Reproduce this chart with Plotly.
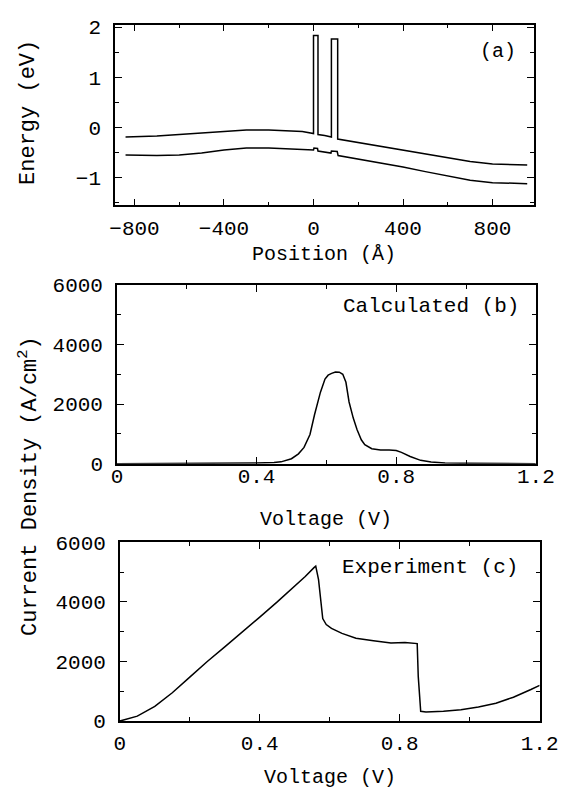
import plotly.graph_objects as go

W, H = 573, 804

# ---------------- data ----------------
# (a) band profile
pos_cb = [-840, -700, -600, -500, -400, -300, -200, -100, -50, 0, 0, 20, 20, 50, 80, 80, 108, 108,
          200, 300, 400, 500, 600, 700, 800, 900, 955]
e_cb = [-0.19, -0.17, -0.14, -0.11, -0.08, -0.05, -0.05, -0.06, -0.08, -0.12, 1.83, 1.83, -0.14, -0.16,
        -0.19, 1.76, 1.76, -0.23, -0.30, -0.37, -0.44, -0.52, -0.60, -0.68, -0.73, -0.75, -0.75]
pos_lb = [-840, -700, -600, -500, -400, -300, -200, -100, -20, 0, 2, 18, 20, 50, 78, 80, 106, 110,
          200, 300, 400, 500, 600, 700, 800, 900, 955]
e_lb = [-0.55, -0.56, -0.55, -0.51, -0.45, -0.41, -0.41, -0.43, -0.46, -0.45, -0.41, -0.42, -0.47, -0.49,
        -0.51, -0.47, -0.48, -0.56, -0.63, -0.71, -0.79, -0.88, -0.97, -1.05, -1.10, -1.12, -1.12]

# (b) calculated current density
v_calc = [0, 0.3, 0.40, 0.45, 0.47, 0.50, 0.52, 0.536, 0.553, 0.566, 0.583, 0.596, 0.605, 0.615, 0.626,
          0.637, 0.647, 0.656, 0.665, 0.677, 0.688, 0.70, 0.71, 0.73, 0.755, 0.78, 0.80, 0.815, 0.84,
          0.87, 0.90, 0.94, 1.0, 1.2]
j_calc = [0, 0, 20, 40, 60, 165, 330, 545, 980, 1640, 2400, 2840, 2970, 3030, 3075, 3070, 3000, 2730,
          2070, 1530, 1140, 800, 640, 500, 460, 455, 440, 380, 240, 110, 55, 25, 10, 0]

# (c) experimental current density
v_exp = [0, 0.05, 0.1, 0.15, 0.2, 0.25, 0.3, 0.35, 0.4, 0.45, 0.5, 0.53, 0.555, 0.56, 0.568, 0.575,
         0.58, 0.59, 0.605, 0.635, 0.675, 0.725, 0.775, 0.815, 0.85, 0.853, 0.86, 0.875, 0.925, 0.975,
         1.025, 1.075, 1.125, 1.175, 1.2]
j_exp = [0, 164, 490, 950, 1473, 2000, 2490, 2980, 3490, 4000, 4530, 4855, 5150, 5200, 4745, 3980,
         3440, 3240, 3110, 2945, 2780, 2695, 2620, 2640, 2600, 1500, 327, 305, 327, 380, 470, 600, 800,
         1060, 1200]

# ticks
pos_ticks = [-800, -400, 0, 400, 800]
e_ticks = [-1, 0, 1, 2]
v_ticks = [0, 0.4, 0.8, 1.2]
v_labels = ["0", "0.4", "0.8", "1.2"]
j_ticks = [0, 2000, 4000, 6000]

FONT = "Liberation Mono, Courier New, monospace"
line = dict(color="black", width=1.5)

fig = go.Figure()
fig.add_trace(go.Scatter(x=pos_cb, y=e_cb, mode="lines", line=line, xaxis="x", yaxis="y"))
fig.add_trace(go.Scatter(x=pos_lb, y=e_lb, mode="lines", line=line, xaxis="x", yaxis="y"))
fig.add_trace(go.Scatter(x=v_calc, y=j_calc, mode="lines", line=line, xaxis="x2", yaxis="y2"))
fig.add_trace(go.Scatter(x=v_exp, y=j_exp, mode="lines", line=line, xaxis="x3", yaxis="y3"))


def xd(a, b):
    return [a / W, b / W]


def yd(top, bot):
    return [1 - bot / H, 1 - top / H]


def ax(domain, rng, tickvals, minor_dtick, anchor, standoff, ticktext=None):
    d = dict(domain=domain, range=rng, tickvals=tickvals, showline=True, linecolor="black",
             linewidth=1.5, mirror="ticks", ticks="inside", ticklen=7, tickwidth=1.2,
             tickcolor="black", showgrid=False, zeroline=False, anchor=anchor,
             tickfont=dict(family=FONT, size=21, color="black"),
             ticklabelstandoff=standoff,
             minor=dict(ticks="inside", dtick=minor_dtick, ticklen=4, tickwidth=1,
                        tickcolor="black", showgrid=False))
    if ticktext is not None:
        d["ticktext"] = ticktext
    return d


fig.update_layout(
    width=W, height=H, margin=dict(l=0, r=0, t=0, b=0),
    paper_bgcolor="white", plot_bgcolor="white", showlegend=False,
    font=dict(family=FONT, color="black"),
    xaxis=ax(xd(114, 552), [-887, 985], pos_ticks, 200, "y", 3),
    yaxis=ax(yd(15, 201), [-1.55, 2.05], e_ticks, 0.5, "x", 8),
    xaxis2=ax(xd(116, 554), [0, 1.2], v_ticks, 0.2, "y2", -8, v_labels),
    yaxis2=ax(yd(283, 467), [0, 6000], j_ticks, 1000, "x2", 8),
    xaxis3=ax(xd(119, 558), [0, 1.2], v_ticks, 0.2, "y3", 2, v_labels),
    yaxis3=ax(yd(548, 732), [0, 6000], j_ticks, 1000, "x3", 8),
)


def ann(text, x, y, size=20, angle=0):
    fig.add_annotation(text=text, x=x / W, y=1 - y / H, xref="paper", yref="paper",
                       showarrow=False, textangle=angle, xanchor="center", yanchor="middle",
                       font=dict(family=FONT, size=size, color="black"))


ann("(a)", 514, 43, 20)
ann("Calculated (b)", 444, 305, 21)
ann("Experiment (c)", 443, 574, 21)
ann("Position (Å)", 333, 252, 20)
ann("Voltage (V)", 335, 524, 20)
ann("Voltage (V)", 339, 790, 20)
ann("Energy (eV)", 24, 105, 22, -90)
ann("Current Density (A/cm<sup>2</sup>)", 24, 490, 22, -90)

fig.write_html("out.html")
